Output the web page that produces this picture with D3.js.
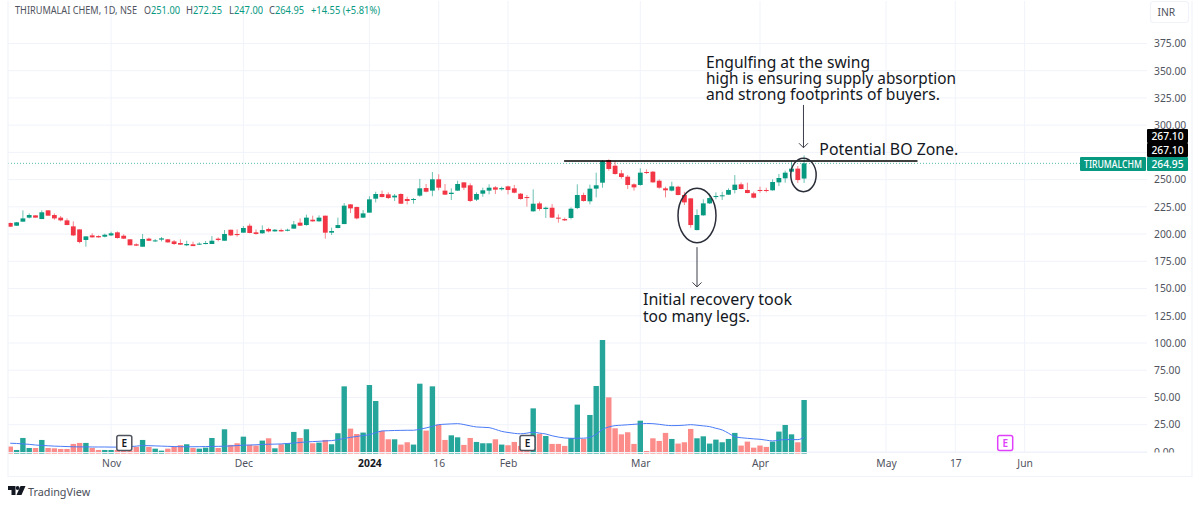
<!DOCTYPE html>
<html>
<head>
<meta charset="utf-8">
<script src="https://cdn.jsdelivr.net/npm/d3@7/dist/d3.min.js"></script>
<style>
  html, body { margin: 0; padding: 0; background: #fff; }
  svg { display: block; font-family: "Noto Sans", sans-serif; }
  .domain { display: none; }
</style>
</head>
<body>
<div id="chart"></div>
<script>
const width = 1200
const height = 506

// daily bars
const open = [
  210.2,207.7,211.4,215.1,217.2,213.8,221.8,217.5,215.1,212.6,
  207.1,204.3,194.6,198.8,198.2,197.6,198.8,201.6,198.5,195.2,
  190.6,188.4,195.8,193.3,194.9,195.2,193.3,191.8,189.7,190.6,
  190.3,190.9,190.9,195.8,193.9,204.0,200.1,201.3,207.7,201.6,
  200.7,204.7,202.5,203.7,203.1,205.0,210.5,208.3,213.2,211.7,
  216.9,201.3,205.6,209.2,227.3,224.9,215.1,219.7,232.5,236.8,
  236.5,233.7,236.8,232.2,231.3,235.3,242.3,239.9,250.3,239.9,
  236.8,239.9,247.5,244.8,231.6,237.1,239.9,242.9,241.1,243.8,
  242.0,237.1,234.0,220.9,228.2,223.0,224.2,215.1,213.8,214.8,
  223.9,235.9,230.1,241.7,247.2,268.0,262.8,255.8,252.7,245.7,
  245.1,257.0,257.3,249.0,242.0,239.9,243.5,235.9,232.8,203.7,
  217.2,228.2,234.0,234.7,236.2,240.5,245.7,240.5,237.4,240.5,
  240.5,240.2,247.5,251.2,257.3,260.1,251.0]
const high = [
  210.5,211.1,221.8,219.0,217.2,221.8,221.8,219.0,216.6,214.4,
  211.7,204.3,197.9,200.7,198.8,200.4,202.2,202.5,199.8,195.2,
  191.5,200.1,196.7,195.5,197.3,195.5,194.6,195.2,193.9,193.0,
  192.4,193.6,198.2,197.0,203.7,204.0,204.3,207.4,209.6,204.3,
  208.0,205.9,204.7,205.0,205.0,212.0,214.4,217.8,216.9,217.2,
  216.9,205.9,215.1,228.5,227.3,225.2,222.1,234.7,238.9,239.9,
  238.3,236.8,237.4,234.3,233.1,250.6,246.0,257.0,254.9,246.0,
  242.0,249.0,247.5,246.6,238.3,242.6,245.7,244.1,243.5,244.4,
  245.1,237.7,235.9,241.1,229.8,225.2,227.6,218.1,215.1,224.5,
  245.7,238.0,245.4,256.4,268.0,268.6,267.1,258.8,254.2,246.6,
  260.4,259.4,257.9,250.3,243.5,248.1,244.4,238.9,232.8,222.7,
  231.9,237.4,238.3,238.9,242.0,254.2,247.5,247.2,238.9,243.5,
  242.6,250.3,255.2,258.2,266.5,262.5,272.25]
const low = [
  206.8,207.4,211.4,214.4,215.1,213.8,216.9,213.2,211.7,208.3,
  198.2,191.5,188.4,196.7,196.7,197.0,198.2,195.8,195.5,189.7,
  189.0,188.4,193.6,192.7,193.3,192.1,190.0,190.0,189.0,189.0,
  190.0,190.6,190.9,193.3,193.9,198.2,197.6,201.3,200.7,199.5,
  200.4,201.6,202.2,202.2,202.5,205.0,207.4,207.7,211.4,211.4,
  195.8,199.1,205.3,209.2,219.3,213.5,214.8,219.7,229.1,233.7,
  232.2,230.4,227.6,227.3,227.9,234.3,238.3,234.7,240.2,235.9,
  231.3,239.6,240.5,229.4,230.4,234.3,236.5,236.8,239.9,236.5,
  237.4,231.6,225.2,220.6,221.5,214.8,214.8,210.5,212.0,213.5,
  223.0,229.8,227.3,233.7,242.6,258.2,254.6,250.9,241.4,239.9,
  244.4,255.2,247.2,241.7,233.7,239.2,235.6,226.7,205.9,203.4,
  216.9,227.6,231.9,231.3,235.9,237.4,241.1,237.4,232.8,238.0,
  238.3,239.9,244.1,247.2,256.7,247.0,247.0]
const close = [
  206.8,210.8,214.4,217.5,215.1,220.0,216.9,214.4,212.6,208.3,
  198.8,192.7,197.9,197.0,197.0,199.4,200.7,196.4,195.8,189.7,
  189.4,195.5,193.9,194.2,196.1,192.4,190.9,190.3,190.9,189.0,
  191.2,191.8,193.9,194.6,200.1,198.8,199.1,205.6,201.0,200.1,
  203.7,202.5,204.0,202.5,204.0,208.9,207.7,215.1,211.7,215.1,
  201.3,202.8,208.3,226.1,223.6,214.4,219.0,231.9,236.8,234.0,
  233.1,235.3,227.9,230.4,232.2,242.0,238.9,250.3,242.6,236.2,
  238.0,246.0,242.6,230.4,236.8,240.2,242.6,240.8,242.3,240.5,
  238.0,232.2,233.1,227.9,223.0,224.2,215.1,214.4,212.6,223.3,
  235.9,230.4,241.7,244.8,266.8,259.8,255.2,252.4,245.1,242.9,
  256.4,256.1,247.5,242.6,240.2,243.8,235.9,229.1,208.3,217.5,
  228.2,233.1,235.0,235.6,240.5,245.4,241.4,237.7,233.4,239.6,
  239.9,247.8,251.5,256.4,260.1,249.6,264.95]
const volume = [
  6.4,3.3,14.2,5.1,5.1,12.4,5.1,4.8,4.2,4.2,
  8.8,9.7,9.7,5.1,3.3,3.3,3.3,3.3,2.7,2.7,
  6.1,12.4,6.1,4.5,2.7,4.5,6.1,7.6,8.5,5.1,
  4.5,5.4,14.2,5.1,22.1,7.9,9.4,15.4,7.9,7.3,
  11.8,13.9,4.8,8.5,9.4,19.7,14.2,22.1,9.4,10.0,
  12.4,8.5,18.5,61.1,22.7,17.8,19.1,62.3,47.8,20.6,
  13.0,13.0,8.2,10.3,8.2,63.5,20.9,61.1,26.3,12.4,
  16.6,14.8,7.9,14.2,10.6,9.4,9.4,13.0,8.2,7.6,
  10.6,7.0,7.0,41.1,17.8,16.0,8.8,8.8,7.0,14.2,
  44.5,13.3,35.1,61.4,103.2,51.1,23.0,17.5,19.4,8.8,
  29.9,2.4,13.9,11.5,18.8,13.3,9.1,10.3,22.4,13.9,
  15.7,9.1,12.7,10.3,13.3,18.8,7.3,10.9,5.4,7.3,
  6.1,10.9,20.0,26.0,17.5,10.3,48.7]
const volumeMA = [
  9.4,9.2,8.8,8.4,7.8,7.4,7.1,6.8,6.6,6.4,
  6.2,6.1,6.1,6.0,6.0,6.0,5.9,5.9,6.0,6.3,
  6.8,7.3,7.2,7.0,6.8,6.6,6.4,6.3,6.2,6.2,
  6.3,6.4,6.5,6.6,6.7,7.0,7.3,7.6,7.8,8.0,
  8.3,8.5,8.6,8.8,9.2,9.6,10.1,10.6,10.9,11.2,
  11.5,11.8,12.6,13.8,14.8,15.6,16.4,17.2,19.0,20.6,
  20.8,21.0,21.1,21.2,21.2,22.2,23.3,24.8,26.3,26.7,
  27.0,27.2,26.4,25.2,24.2,23.9,23.6,22.0,20.2,19.2,
  18.4,18.0,18.6,19.4,18.6,17.8,16.2,15.0,14.2,13.9,
  13.9,14.0,14.8,17.5,22.0,24.2,25.4,25.8,26.2,26.6,
  27.0,27.4,27.2,26.6,25.8,25.4,25.5,25.8,26.3,25.8,
  25.2,24.5,23.0,21.5,18.5,15.4,14.4,13.9,13.4,13.0,
  12.2,11.5,12.2,12.7,12.7,12.7,14.8]

const priceTicks = [0,25,50,75,100,125,150,175,200,225,250,275,300,325,350,375]
const timeTickBars = [16,37,57,68,79,100,119,139,150,161]
const timeTickLabels = ["Nov","Dec","2024","16","Feb","Mar","Apr","May","17","Jun"]
const earningsBars = [18,82,158]
const lastPrice = 264.95
const swingHigh = 267.10

const frame = {left: 8, right: 1192, top: 1, plotRight: 1147, plotBottom: 452.5, bottom: 476.5}
const bull = "#089981"
const bear = "#f23645"
const gridColor = "#f0f3fa"

const bars = open.map((o, i) => ({i, o, h: high[i], l: low[i], c: close[i], v: volume[i], ma: volumeMA[i]}))

const svg = d3.select("div#chart").append("svg").attr("width", width).attr("height", height)
svg.append("rect").attr("width", width).attr("height", height).attr("fill", "#fff")

const x = d3.scaleLinear().domain([0, 126]).range([10.3, 804.1])
const y = d3.scaleLinear().domain([0, 375]).range([451.9, 43.5])
const yVol = d3.scaleLinear().domain([0, 103.2]).range([453.6, 340])

svg.append("clipPath").attr("id", "plotClip").append("rect")
    .attr("x", frame.left).attr("y", frame.top)
    .attr("width", frame.plotRight - frame.left).attr("height", 454 - frame.top)
svg.append("clipPath").attr("id", "axisClip").append("rect")
    .attr("x", frame.plotRight).attr("y", 0).attr("width", 50).attr("height", frame.plotBottom)

// grid
const grid = svg.append("g").attr("class", "grid").attr("stroke", gridColor).attr("stroke-width", 1)
grid.selectAll(".h").data(priceTicks).enter().append("line")
    .attr("x1", frame.left).attr("x2", frame.plotRight)
    .attr("y1", d => y(d)).attr("y2", d => y(d))
grid.selectAll(".v").data(timeTickBars).enter().append("line")
    .attr("x1", d => x(d)).attr("x2", d => x(d))
    .attr("y1", frame.top).attr("y2", frame.plotBottom)

const plot = svg.append("g").attr("clip-path", "url(#plotClip)")

// volume
plot.append("g").selectAll("rect").data(bars).enter().append("rect")
    .attr("x", d => x(d.i) - 2.7)
    .attr("width", 5.4)
    .attr("y", d => yVol(d.v))
    .attr("height", d => yVol(0) - yVol(d.v))
    .attr("fill", d => d.c >= d.o ? "#26a69a" : "#fb8c8a")

const maLine = d3.line().x(d => x(d.i)).y(d => yVol(d.ma)).curve(d3.curveMonotoneX)
plot.append("path").datum(bars).attr("d", maLine)
    .attr("fill", "none").attr("stroke", "#4a7bf7").attr("stroke-width", 1)

// last price line
plot.append("line")
    .attr("x1", frame.left).attr("x2", 1080)
    .attr("y1", y(lastPrice)).attr("y2", y(lastPrice))
    .attr("stroke", "#5cbfae").attr("stroke-width", 1).attr("stroke-dasharray", "1,2")

// candles
const candles = plot.append("g").selectAll("g").data(bars).enter().append("g")
    .attr("fill", d => d.c >= d.o ? bull : bear)
    .attr("stroke", d => d.c >= d.o ? bull : bear)
candles.append("line")
    .attr("x1", d => x(d.i)).attr("x2", d => x(d.i))
    .attr("y1", d => y(d.h)).attr("y2", d => y(d.l))
    .attr("stroke-width", 1).attr("stroke-opacity", 0.6)
candles.append("rect")
    .attr("x", d => x(d.i) - 2.4)
    .attr("width", 4.8)
    .attr("y", d => y(Math.max(d.o, d.c)))
    .attr("height", d => Math.max(1, Math.abs(y(d.o) - y(d.c))))
    .attr("stroke", "none")

// earnings markers
const earnings = svg.append("g").selectAll("g").data(earningsBars).enter().append("g")
    .attr("transform", d => `translate(${x(d) + (d === 158 ? -0.5 : 0.6)}, 443)`)
earnings.append("rect")
    .attr("x", -7.5).attr("y", -7.5).attr("width", 15).attr("height", 15).attr("rx", 2)
    .attr("fill", "#fff")
    .attr("stroke", d => d === 158 ? "#e040fb" : "#50535e").attr("stroke-width", 1.5)
earnings.append("text").text("E")
    .attr("text-anchor", "middle").attr("y", 3.6)
    .attr("font-size", 10).attr("font-weight", 600)
    .attr("fill", d => d === 158 ? "#e040fb" : "#131722")

// drawings
const drawings = svg.append("g").attr("font-family", "'Noto Sans', sans-serif")
drawings.append("line")
    .attr("x1", x(87.9)).attr("x2", x(144))
    .attr("y1", y(swingHigh)).attr("y2", y(swingHigh))
    .attr("stroke", "#000").attr("stroke-width", 1.5)

const ellipses = [[109, 217.1, 19, 27.2], [125.9, 254.3, 12.7, 16.7]]
drawings.selectAll("ellipse").data(ellipses).enter().append("ellipse")
    .attr("cx", d => x(d[0])).attr("cy", d => y(d[1]))
    .attr("rx", d => d[2]).attr("ry", d => d[3])
    .attr("fill", "none").attr("stroke", "#2a2e39").attr("stroke-width", 1.5)

const arrows = [[109, 188, 151.5], [125.9, 318.6, 279.3]]
arrows.forEach(a => {
    const ax = x(a[0]), top = y(a[1]), tip = y(a[2])
    drawings.append("path")
        .attr("d", `M${ax},${top}V${tip}M${ax - 4.5},${tip - 4.5}L${ax},${tip}L${ax + 4.5},${tip - 4.5}`)
        .attr("fill", "none").attr("stroke", "#3b3e48").attr("stroke-width", 1)
})

// text, x, baseline, width in the picture
const notes = [
    ["Engulfing at the swing", 706, 67.7, 164],
    ["high is ensuring supply absorption", 706, 84, 250],
    ["and strong footprints of buyers.", 706, 100.3, 234],
    ["Potential BO Zone.", 819.3, 155.3, 139],
    ["Initial recovery took", 643, 305.3, 149],
    ["too many legs.", 643, 321.7, 107]
]
drawings.selectAll("text").data(notes).enter().append("text")
    .text(d => d[0]).attr("x", d => d[1]).attr("y", d => d[2])
    .attr("textLength", d => d[3]).attr("lengthAdjust", "spacingAndGlyphs")
    .attr("font-size", 16).attr("fill", "#131722")

// frame
svg.append("path")
    .attr("d", `M${frame.left},${frame.top}V${frame.bottom}H${frame.right}V${frame.top}`)
    .attr("fill", "none").attr("stroke", gridColor).attr("stroke-width", 1.2)
svg.append("line")
    .attr("x1", frame.left).attr("x2", frame.plotRight)
    .attr("y1", frame.plotBottom).attr("y2", frame.plotBottom)
    .attr("stroke", gridColor)

// axes
const yAxis = d3.axisRight(y).tickValues(priceTicks).tickFormat(d3.format(".2f")).tickSize(0).tickPadding(0)
const xAxis = d3.axisBottom(x).tickValues(timeTickBars).tickFormat((d, i) => timeTickLabels[i]).tickSize(0).tickPadding(0)

const yAxisGroup = svg.append("g").attr("clip-path", "url(#axisClip)")
    .append("g").attr("transform", "translate(1154, 0)").call(yAxis)
yAxisGroup.selectAll("text").attr("font-size", 10.3).attr("font-family", "'Noto Sans', sans-serif").attr("fill", "#50535e")

const xAxisGroup = svg.append("g").attr("transform", "translate(0, 460)").call(xAxis)
xAxisGroup.selectAll("text").attr("font-size", 10.3).attr("font-family", "'Noto Sans', sans-serif")
    .attr("font-weight", (d, i) => timeTickLabels[i] === "2024" ? 700 : 400)
    .attr("fill", (d, i) => timeTickLabels[i] === "2024" ? "#131722" : "#50535e")

// price tags
const tags = [
    {text: "267.10", x: 1147, y: 129, w: 41, h: 14, fill: "#000"},
    {text: "267.10", x: 1147, y: 143, w: 41, h: 14, fill: "#000"},
    {text: "264.95", x: 1147, y: 157, w: 41, h: 14, fill: bull},
    {text: "TIRUMALCHM", x: 1080, y: 157, w: 66, h: 14, fill: bull, len: 58}
]
const tagGroups = svg.append("g").selectAll("g").data(tags).enter().append("g")
tagGroups.append("rect")
    .attr("x", d => d.x).attr("y", d => d.y).attr("width", d => d.w).attr("height", d => d.h)
    .attr("rx", 1).attr("fill", d => d.fill)
tagGroups.append("text").text(d => d.text)
    .attr("x", d => d.x + d.w / 2).attr("y", d => d.y + 10.6)
    .attr("text-anchor", "middle").attr("font-size", 10.3).attr("font-weight", 500).attr("fill", "#fff")
    .filter(d => d.len).attr("textLength", d => d.len).attr("lengthAdjust", "spacingAndGlyphs")

// currency button
svg.append("rect").attr("x", 1150.5).attr("y", 1.5).attr("width", 38).attr("height", 21).attr("rx", 3)
    .attr("fill", "#fff").attr("stroke", gridColor).attr("stroke-width", 1.2)
svg.append("text").text("INR").attr("x", 1157.5).attr("y", 15.5).attr("font-size", 10.3).attr("fill", "#50535e")

// legend: text, colour, x, width
const up = "#089981"
const legendParts = [
    ["THIRUMALAI CHEM, 1D, NSE", "#50535e", 15, 122],
    ["O", "#50535e", 144, 7], ["251.00", up, 151, 29],
    ["H", "#50535e", 186, 7], ["272.25", up, 193, 29],
    ["L", "#50535e", 229, 5], ["247.00", up, 234, 29],
    ["C", "#50535e", 269, 6], ["264.95", up, 275, 29],
    ["+14.55 (+5.81%)", up, 311, 69]
]
svg.append("g").selectAll("text").data(legendParts).enter().append("text")
    .text(d => d[0]).attr("fill", d => d[1])
    .attr("x", d => d[2]).attr("y", 14.3)
    .attr("textLength", d => d[3]).attr("lengthAdjust", "spacingAndGlyphs")
    .attr("font-size", 10.3)

// logo
const logo = svg.append("g").attr("transform", "translate(8, 486)").attr("fill", "#131722")
logo.append("path").attr("d", "M0,0H7.5V9H3.5V4H0Z")
logo.append("circle").attr("cx", 9.6).attr("cy", 2).attr("r", 1.9)
logo.append("path").attr("d", "M12.5,0H17.5L13.5,9H8.5Z")
svg.append("text").text("TradingView").attr("x", 28).attr("y", 495.7)
    .attr("font-size", 10.8).attr("fill", "#4a4e59")
</script>
</body>
</html>
